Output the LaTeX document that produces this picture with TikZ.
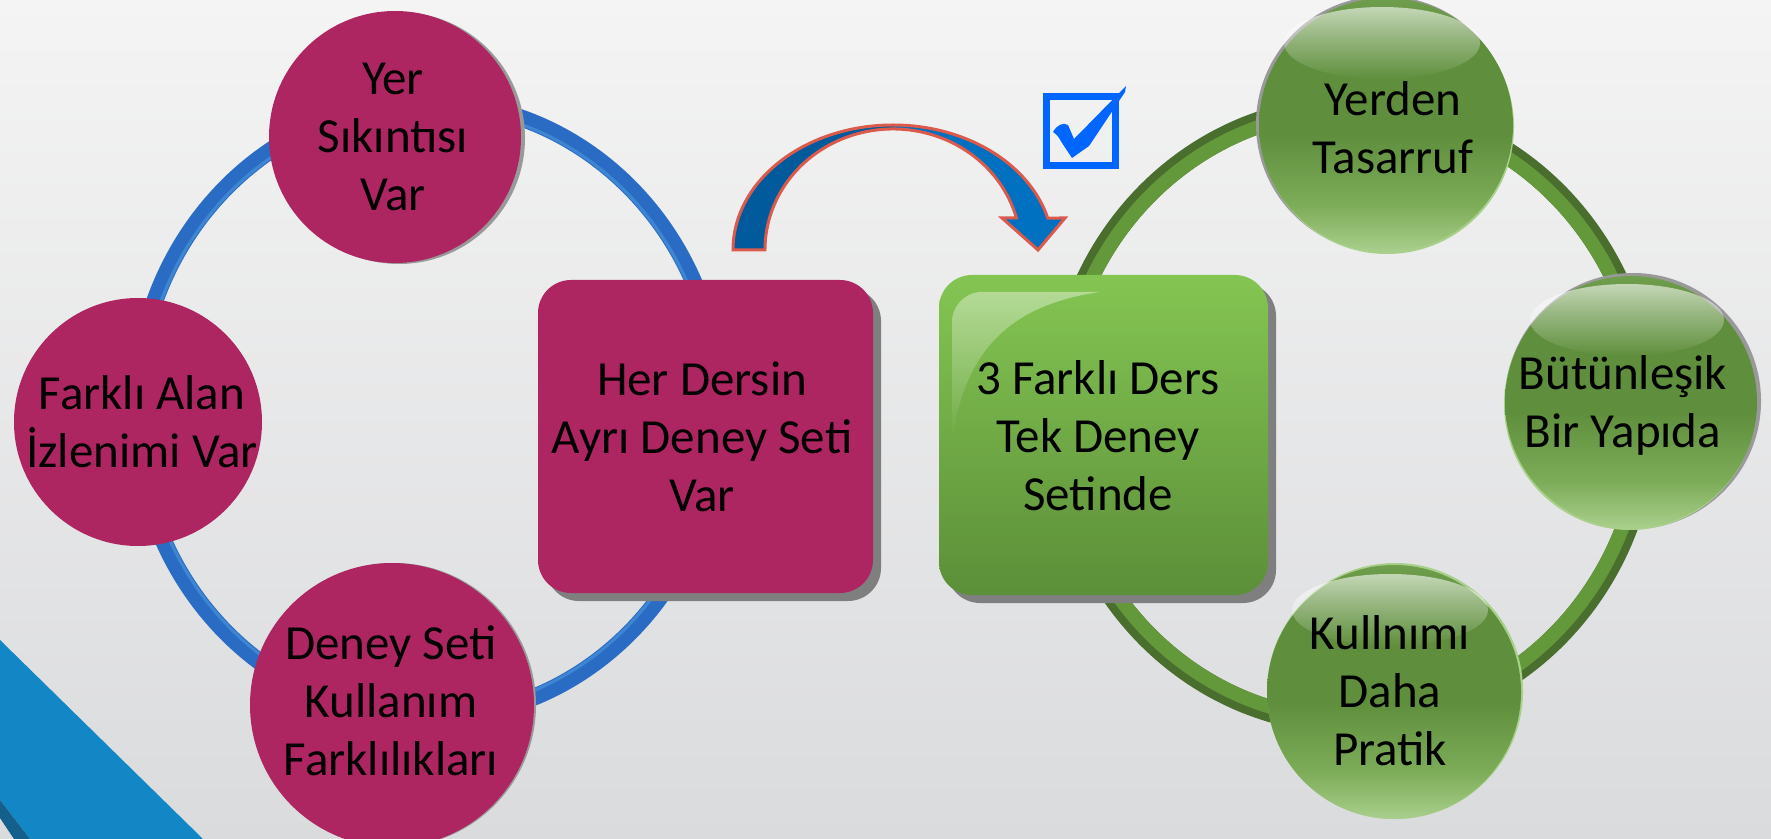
\documentclass[tikz,border=0pt]{standalone}
\usepackage{fontspec}
\setmainfont{Carlito}
\usetikzlibrary{fadings,shadows,calc}
\definecolor{bgtop}{HTML}{F4F4F4}
\definecolor{bgbot}{HTML}{DADBDD}
\definecolor{pinkc}{HTML}{AE2661}
\definecolor{ringblue}{HTML}{2A6CC4}
\definecolor{ringblueL}{HTML}{3F86D2}
\definecolor{ringgreenD}{HTML}{4A6E2E}
\definecolor{ringgreen}{HTML}{64993B}
\definecolor{gA}{HTML}{A9CF8C}
\definecolor{gB}{HTML}{7EAD5A}
\definecolor{gC}{HTML}{5F8F3C}
\definecolor{gD}{HTML}{6F9E4C}
\definecolor{boxgtop}{HTML}{84C552}
\definecolor{boxgbot}{HTML}{5C8F39}
\definecolor{shadowgray}{HTML}{7F7F7F}
\definecolor{rimgray}{HTML}{999999}
\definecolor{rimgreen}{HTML}{A8D08A}
\definecolor{arrdark}{HTML}{005A9C}
\definecolor{arrlight}{HTML}{0070C0}
\definecolor{arrred}{HTML}{DC5A4B}
\definecolor{checkblue}{HTML}{0066FF}
\definecolor{cornerblue}{HTML}{1387C6}
\definecolor{cornerdark}{HTML}{145F8C}
\pgfdeclareverticalshading{gsphere}{100bp}{color(0bp)=(gA); color(25bp)=(gA); color(34bp)=(gB); color(48bp)=(gC); color(68bp)=(gC); color(75bp)=(gD); color(100bp)=(gD)}
\newcommand{\labelfont}{\fontsize{24.5}{29}\selectfont}
\newcommand{\curvedarrowpath}{(733,250) arc[start angle=180, end angle=345.17, x radius=160, y radius=125] -- (1065,218) -- (1038,250) -- (1002,218) -- (1016.4,218) arc[start angle=344.67, end angle=180, x radius=128, y radius=121] -- cycle}

\begin{document}
\begin{tikzpicture}[x=0.5pt,y=-0.5pt,
  lbl/.style={align=center, font=\labelfont, text=black, inner sep=0pt},
  pinkball/.style={circle, fill=pinkc, inner sep=0pt},
  greenball/.style={circle, shading=gsphere, inner sep=0pt},
  boxshadow/.style={drop shadow={shadow xshift=4pt, shadow yshift=-4pt, fill=shadowgray, opacity=1}},
  pinkbox/.style={rectangle, rounded corners=16.5pt, fill=pinkc, inner sep=0pt, boxshadow},
  greenbox/.style={rectangle, rounded corners=16.5pt, top color=boxgtop, bottom color=boxgbot, inner sep=0pt, boxshadow},
  gloss/.style={white, path fading=south},
]
\useasboundingbox (0,0) rectangle (1771,839);
\clip (0,0) rectangle (1771,839);
% background
\shade[top color=bgtop, bottom color=bgbot] (0,0) rectangle (1771,839);
% corner decoration
\fill[cornerblue] (0,640) -- (203,839) -- (30,839) -- (0,800) -- cycle;
\fill[cornerdark] (0,800) -- (30,839) -- (14,839) -- (0,818) -- cycle;

% rings
\draw[ringblue, line width=8.5pt] (428,410) ellipse[x radius=292, y radius=308];
\draw[ringblueL, line width=1.5pt] (428,410) ellipse[x radius=286, y radius=302];
\draw[ringgreenD, line width=11pt] (1352,415) ellipse[x radius=295, y radius=308];
\draw[ringgreen, line width=7pt] (1352,415) ellipse[x radius=291, y radius=304];

% left group
\fill[rimgray] (399,138) circle[radius=126];
\node[pinkball, minimum size=126pt] (y1) at (395,137) {};
\node[lbl] (y1t) at (393,137) {Yer\\Sıkıntısı\\Var};
\node[pinkball, minimum size=124pt] (f1) at (138,422) {};
\node[lbl] (f1t) at (142,422) {Farklı Alan\\İzlenimi Var};
\fill[rimgray] (394,705) circle[radius=142];
\node[pinkball, minimum size=142pt] (d1) at (392,705) {};
\node[lbl] (d1t) at (391,701) {Deney Seti\\Kullanım\\Farklılıkları};
\node[pinkbox, minimum width=167.5pt, minimum height=156.5pt] (b1) at (705.5,436.5) {};
\node[lbl] (b1t) at (702,437) {Her Dersin\\Ayrı Deney Seti\\Var};

% right group
\node[greenbox, minimum width=164.5pt, minimum height=160pt] (b2) at (1103.5,435) {};
\fill[gloss, fill opacity=0.4] (952,440) -- (952,322) arc[start angle=180, end angle=270, radius=30] -- (1100,292) .. controls (1010,305) and (965,350) .. (952,440) -- cycle;
\node[lbl] (b2t) at (1098,436) {3 Farklı Ders\\Tek Deney\\Setinde};

\fill[rimgray] (1384,124) circle[radius=128];
\fill[rimgreen] (1387,127) circle[radius=127];
\node[greenball, minimum size=127pt] (g1) at (1386,125) {};
\fill[gloss, fill opacity=0.6] ($(g1)+(-4,-82)$) ellipse[x radius=98, y radius=36];
\node[lbl] (g1t) at (1393,128) {Yerden\\Tasarruf};

\fill[rimgray] (1633,401) circle[radius=128];
\fill[rimgreen] (1630,404) circle[radius=126];
\node[greenball, minimum size=126pt] (g2) at (1631,402) {};
\fill[gloss, fill opacity=0.6] ($(g2)+(-4,-82)$) ellipse[x radius=97, y radius=36];
\node[lbl] (g2t) at (1623,405) {Bütünleşik\\Bir Yapıda};

\fill[rimgreen] (1395,691) circle[radius=128];
\node[greenball, minimum size=127pt] (g3) at (1394,692) {};
\fill[gloss, fill opacity=0.6] ($(g3)+(-4,-82)$) ellipse[x radius=98, y radius=36];
\node[lbl] (g3t) at (1390,691) {Kullnımı\\Daha\\Pratik};

% curved arrow
\fill[arrlight] \curvedarrowpath;
\begin{scope}
\clip (700,100) rectangle (893,260);
\fill[arrdark] \curvedarrowpath;
\end{scope}
\draw[arrred, line width=1.5pt, line join=miter] \curvedarrowpath;

% check box
\node[draw=checkblue, line width=3.5pt, minimum size=34.5pt, inner sep=0pt] (chk) at (1081,131) {};
\fill[checkblue] (1053,132) .. controls (1057,125) and (1063,122) .. (1068,125) -- (1074,139) -- (1126,86) -- (1125,92) -- (1089,146) -- (1072,158) -- (1062,143) .. controls (1059,137) and (1056,134) .. cycle;
\end{tikzpicture}
\end{document}
